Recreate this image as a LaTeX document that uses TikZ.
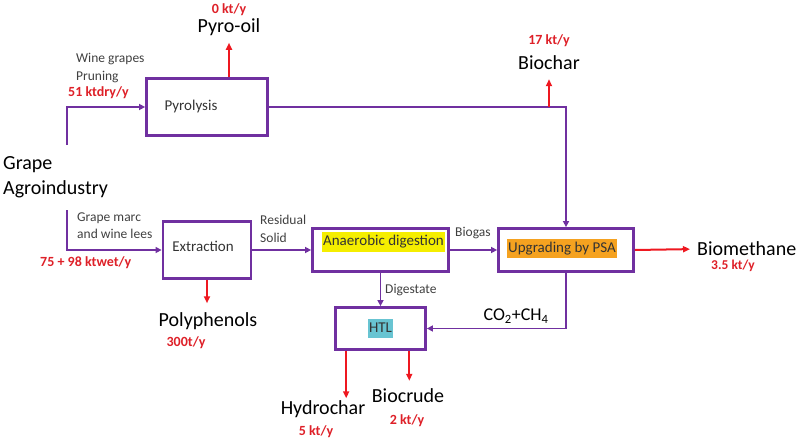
\documentclass[tikz,border=0pt]{standalone}
\usepackage{fontspec}
\setmainfont{Carlito}
\usepackage{xcolor}
\usepackage{tikz}
\usetikzlibrary{positioning,arrows.meta,calc}

\definecolor{procpurple}{RGB}{112,48,160}
\definecolor{flowred}{RGB}{238,24,32}
\definecolor{numred}{RGB}{222,32,40}
\definecolor{labelgray}{RGB}{64,64,64}
\definecolor{hlyellow}{RGB}{245,238,0}
\definecolor{hlorange}{RGB}{245,162,32}
\definecolor{hlcyan}{RGB}{104,196,210}

\begin{document}
\begin{tikzpicture}[x=1pt,y=-1pt,
    process/.style={draw=procpurple, line width=2.8pt, inner sep=0pt},
    boxtext/.style={font=\fontsize{15}{17}\selectfont, text=black!80, inner xsep=1.5pt, inner ysep=2.5pt, text height=11pt, text depth=3.5pt},
    bigtext/.style={font=\fontsize{20}{25}\selectfont, inner sep=0pt},
    smalltext/.style={font=\fontsize{13.5}{17.5}\selectfont, text=labelgray, inner sep=0pt, align=left},
    amount/.style={font=\bfseries\fontsize{14}{16}\selectfont, text=numred, inner sep=0pt},
    flow/.style={draw=procpurple, line width=1.6pt, -{Triangle[length=6pt,width=6pt]}},
    product/.style={draw=flowred, line width=2pt, -{Triangle[length=7pt,width=6pt]}}]
    \useasboundingbox (0,0) rectangle (800,442);

    % process units
    \node[process, minimum width=121pt, minimum height=57pt] (pyro) at (207,107) {};
    \node[boxtext] (pyrolabel) at (191,107) {Pyrolysis};
    \node[process, minimum width=88pt, minimum height=57pt] (extr) at (207,250) {};
    \node[boxtext] (extrlabel) at (203,248) {Extraction};
    \node[process, minimum width=136pt, minimum height=43pt] (anae) at (380.5,250) {};
    \node[boxtext, fill=hlyellow] (anaelabel) at (383.5,242) {Anaerobic digestion};
    \node[process, minimum width=135pt, minimum height=43pt] (upg) at (566,250) {};
    \node[boxtext, fill=hlorange] (upglabel) at (562,248.5) {Upgrading by PSA};
    \node[process, minimum width=90pt, minimum height=42pt] (htl) at (380.5,328.5) {};
    \node[boxtext, fill=hlcyan] (htllabel) at (380.5,328.5) {HTL};

    % feedstock
    \node[bigtext, align=left, anchor=west] (grape) at (3,177) {Grape\\Agroindustry};
    \coordinate (wineout) at (67,145);
    \coordinate (marcout) at (67,210);
    \node[smalltext, anchor=west] (wine) at (76,68) {Wine grapes\\Pruning};
    \node[amount, anchor=west] (wineamt) at (68,93) {51 ktdry/y};
    \node[smalltext, anchor=west] (marc) at (77,225.5) {Grape marc\\and wine lees};
    \node[amount, anchor=west] (marcamt) at (40,263) {75 + 98 ktwet/y};

    \draw[flow] (wineout) |- (pyro.west);
    \draw[flow] (marcout) |- (extr.west);
    \draw[flow] (extr.east) -- (anae.west);
    \draw[flow] (anae.east) -- (upg.west);
    \draw[flow] (pyro.east) -| (upg.north);
    \draw[flow] (anae.south) -- (htl.north);
    \draw[flow] (upg.south) |- (htl.east);

    \node[smalltext, anchor=west] (residual) at (260,229) {Residual\\Solid};
    \node[smalltext, anchor=west] (biogas) at (455,233) {Biogas};
    \node[smalltext, anchor=west] (digestate) at (385,290) {Digestate};
    \node[font=\fontsize{18}{20}\selectfont, inner sep=0pt] (offgas) at (516,316) {CO\textsubscript{2}+CH\textsubscript{4}};

    % products
    \node[bigtext] (pyrooil) at (229,27) {Pyro-oil};
    \node[amount] (pyrooilamt) at (229,10) {0 kt/y};
    \draw[product, shorten >=7pt] (pyro.north -| pyrooil.south) -- (pyrooil.south);

    \node[bigtext] (biochar) at (549,63) {Biochar};
    \node[amount] (biocharamt) at (549,41) {17 kt/y};
    \draw[product, shorten >=9pt] (biochar.south |- pyro.east) -- (biochar.south);

    \node[bigtext] (polyph) at (208,321) {Polyphenols};
    \node[amount] (polyphamt) at (186,343) {300t/y};
    \draw[product, shorten >=9pt] (extr.south) -- (extr.south |- polyph.north);

    \node[bigtext, anchor=west] (biometh) at (697,249) {Biomethane};
    \node[amount, font=\bfseries\fontsize{13.5}{15}\selectfont] (biomethamt) at (733,266) {3.5 kt/y};
    \draw[product, shorten >=7pt] (upg.east) -- (biometh.west);

    \coordinate (hydroout) at ($(htl.south west)!0.13!(htl.south east)$);
    \coordinate (crudeout) at ($(htl.south west)!0.81!(htl.south east)$);
    \node[bigtext] (hydro) at (323,409) {Hydrochar};
    \node[amount] (hydroamt) at (316,432) {5 kt/y};
    \draw[product, shorten >=2pt] (hydroout) -- (hydroout |- hydro.north);

    \node[bigtext] (crude) at (408,396) {Biocrude};
    \node[amount] (crudeamt) at (407,421) {2 kt/y};
    \draw[product, shorten >=8pt] (crudeout) -- (crudeout |- crude.north);
\end{tikzpicture}
\end{document}
